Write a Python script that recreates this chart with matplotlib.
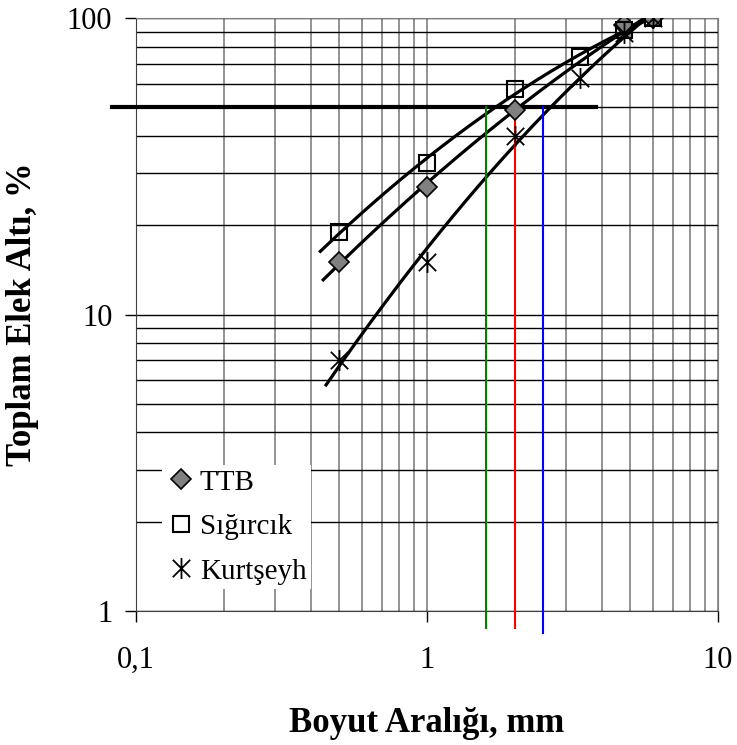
import numpy as np
import matplotlib
matplotlib.use("Agg")
import matplotlib.pyplot as plt
from matplotlib.path import Path
from matplotlib.ticker import LogLocator, NullFormatter

plt.rcParams['font.family'] = ['Liberation Serif', 'DejaVu Serif']

# sieve sizes (mm) and cumulative passing (%)
sizes_ttb = [0.5, 1, 2, 4.75, 6]
ttb = [15, 27, 49, 95, 100]
sizes = [0.5, 1, 2, 3.35, 4.75, 6]
sigircik = [19, 32.5, 57.5, 74, 91, 100]
kurtseyh = [7, 15, 40, 63, 89, 100]

# where each trendline starts (backward forecast)
trend_start = [0.44, 0.43, 0.45]

# d50 sizes
d50_values = [1.6, 2.0, 2.5]
d50_colors = ['green', 'red', 'blue']
d50_bottom = [0.876, 0.876, 0.843]
half_line = 50

# asterisk marker: X with a vertical bar
star = Path([(-1, -1), (1, 1), (-1, 1), (1, -1), (0, -1.2), (0, 1.2)],
            [Path.MOVETO, Path.LINETO] * 3)

fig = plt.figure(figsize=(7.37, 7.45), dpi=100)
ax = fig.add_axes([0.1845, 0.1799, 0.7897, 0.7959])
ax.set_xscale('log')
ax.set_yscale('log')
ax.set_xlim(0.1, 10)
ax.set_ylim(1, 100)

# grid: black horizontals, grey verticals
ax.yaxis.set_minor_locator(LogLocator(subs=np.arange(2, 10)))
ax.xaxis.set_minor_locator(LogLocator(subs=np.arange(2, 10)))
ax.grid(True, axis='y', which='both', color='black', lw=1.0)
ax.grid(True, axis='x', which='both', color='#808080', lw=1.2)
ax.set_axisbelow(True)
for s in ['top', 'right']:
    ax.spines[s].set_color('#808080')
for s in ['left', 'bottom']:
    ax.spines[s].set_color('#404040')
ax.tick_params(which='minor', length=0)
ax.tick_params(which='major', length=8, direction='out', width=1, labelsize=22)
ax.tick_params(axis='y', pad=9)
ax.tick_params(axis='x', pad=17)
ax.xaxis.set_minor_formatter(NullFormatter())
ax.yaxis.set_minor_formatter(NullFormatter())
ax.set_xticks([0.1, 1, 10], ['0,1', '1', '10'])
ax.set_yticks([1, 10, 100], ['1', '10', '100'])

series = [
    (sizes_ttb, ttb, 'TTB', dict(marker='D', ms=10, mfc='#808080', mec='black', mew=1.2)),
    (sizes, sigircik, 'Sığırcık', dict(marker='s', ms=11, mfc='none', mec='black', mew=1.5)),
    (sizes, kurtseyh, 'Kurtşeyh', dict(marker=star, ms=15, mfc='none', mec='black', mew=1.3)),
]

for (x, y, name, style), x0 in zip(series, trend_start):
    # second order trendline fitted on log scales
    lx, ly = np.log10(x), np.log10(y)
    coef = np.polyfit(lx, ly, 2)
    xs = np.linspace(np.log10(x0), lx.max(), 200)
    ax.plot(10 ** xs, 10 ** np.polyval(coef, xs), color='black', lw=2.3, zorder=3)
    ax.plot(x, y, ls='none', label=name, zorder=4, **style)

ax.plot([0.083, 3.8], [half_line, half_line], color='black', lw=3, clip_on=False, zorder=3)
for d, c, b in zip(d50_values, d50_colors, d50_bottom):
    ax.plot([d, d], [b, half_line], color=c, lw=1.5, clip_on=False, zorder=3)

leg = ax.legend(loc='lower left', bbox_to_anchor=(0.0447, 0.037), fontsize=21,
                frameon=True, fancybox=False, framealpha=1, edgecolor='none',
                handletextpad=0.15, handlelength=1.0, labelspacing=0.62, borderpad=0.15,
                borderaxespad=0)

ax.set_xlabel('Boyut Aralığı, mm', fontsize=25, fontweight='bold', labelpad=23)
ax.set_ylabel('Toplam Elek Altı, %', fontsize=25, fontweight='bold', labelpad=20)

fig.savefig('out.png', dpi=100)
